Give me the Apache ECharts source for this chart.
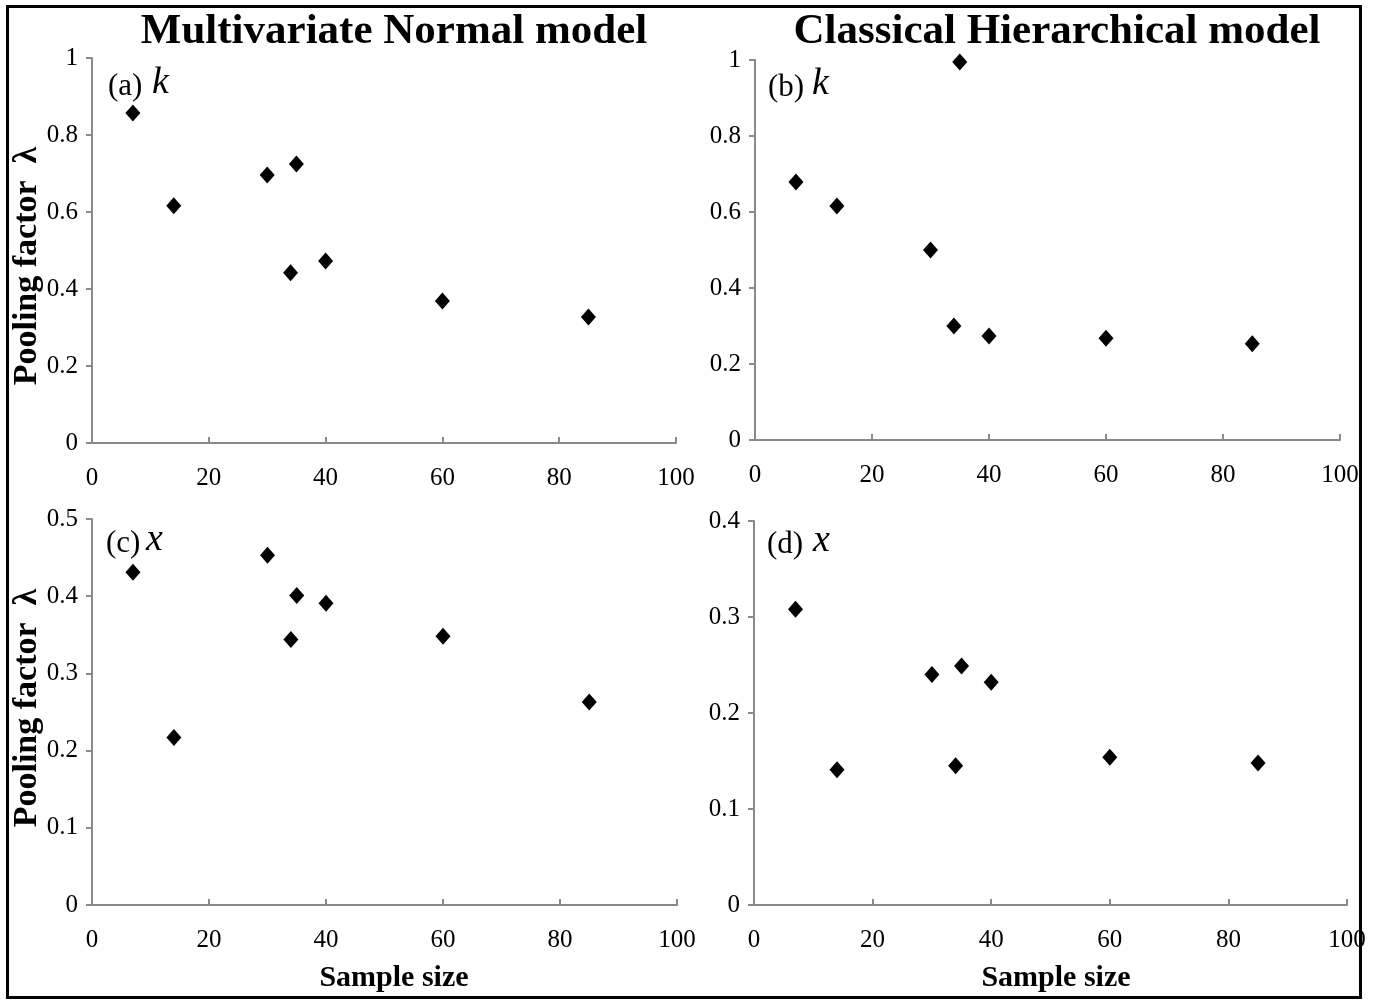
<!DOCTYPE html>
<html>
<head>
<meta charset="utf-8">
<script src="https://cdn.jsdelivr.net/npm/echarts@6/dist/echarts.min.js"></script>
<style>
html,body{margin:0;padding:0;background:#fff;}
#c{width:1376px;height:1001px;}
</style>
</head>
<body>
<div id="c"></div>
<script>
// Data
var sampleSize = [7, 14, 30, 35, 34, 40, 60, 85];
var kMultivariate = [0.857, 0.616, 0.696, 0.725, 0.442, 0.473, 0.369, 0.327];
var kClassical = [0.679, 0.616, 0.500, 0.995, 0.300, 0.274, 0.268, 0.253];
var xMultivariate = [0.431, 0.217, 0.453, 0.401, 0.344, 0.391, 0.348, 0.263];
var xClassical = [0.308, 0.141, 0.240, 0.249, 0.145, 0.232, 0.154, 0.148];

var columnTitles = ['Multivariate Normal model', 'Classical Hierarchical model'];
var panelLetters = ['(a)', '(b)', '(c)', '(d)'];
var panelVars = ['k', 'k', 'x', 'x'];
var yMax = [1, 1, 0.5, 0.4];
var yInterval = [0.2, 0.2, 0.1, 0.1];
var yName = 'Pooling factor  λ';
var xName = 'Sample size';

var panels = [kMultivariate, kClassical, xMultivariate, xClassical];

var grids = [
  {left: 92, top: 58, width: 584, height: 385},
  {left: 755, top: 60, width: 585, height: 380},
  {left: 92, top: 519, width: 585, height: 386},
  {left: 754, top: 521, width: 593, height: 384}
];

var FONT = '"Liberation Serif", "Times New Roman", serif';
var axisGray = '#8a8a8a';

function pairs(xs, ys) {
  return xs.map(function (v, i) { return [v, ys[i]]; });
}

var xAxes = [], yAxes = [], series = [], titles = [], graphics = [];
for (var i = 0; i < 4; i++) {
  xAxes.push({
    type: 'value', gridIndex: i, min: 0, max: 100, interval: 20,
    axisLine: {show: true, lineStyle: {color: axisGray, width: 2}},
    axisTick: {show: true, inside: true, length: 6, lineStyle: {color: axisGray, width: 2}},
    splitLine: {show: false},
    axisLabel: {color: '#000', fontFamily: FONT, fontSize: 25, margin: 23}
  });
  yAxes.push({
    type: 'value', gridIndex: i, min: 0, max: yMax[i], interval: yInterval[i],
    axisLine: {show: true, lineStyle: {color: axisGray, width: 2}},
    axisTick: {show: true, inside: false, length: 6, lineStyle: {color: axisGray, width: 2}},
    splitLine: {show: false},
    axisLabel: {color: '#000', fontFamily: FONT, fontSize: 25, margin: 14}
  });
  series.push({
    type: 'scatter', xAxisIndex: i, yAxisIndex: i,
    symbol: 'diamond', symbolSize: [15, 17],
    itemStyle: {color: '#000', opacity: 1},
    data: pairs(sampleSize, panels[i]),
    silent: true
  });
}

titles.push({
  text: columnTitles[0], left: 389, top: 5, textAlign: 'center',
  textStyle: {fontFamily: FONT, fontSize: 43, fontWeight: 'bold', color: '#000'}
});
titles.push({
  text: columnTitles[1], left: 1052, top: 5, textAlign: 'center',
  textStyle: {fontFamily: FONT, fontSize: 43, fontWeight: 'bold', color: '#000'}
});

// panel labels
var labelPos = [[108, 85, 44], [768, 86, 44], [106, 542, 40], [767, 543, 46]];
for (var j = 0; j < 4; j++) {
  graphics.push({
    type: 'text', left: labelPos[j][0], top: labelPos[j][1] - 21, silent: true,
    style: {
      text: '{n|' + panelLetters[j] + '}{v|' + panelVars[j] + '}',
      rich: {
        n: {fontFamily: FONT, fontSize: 31, fill: '#000', width: labelPos[j][2], lineHeight: 42, verticalAlign: 'bottom'},
        v: {fontFamily: FONT, fontSize: 38, fontStyle: 'italic', fill: '#000', lineHeight: 42, verticalAlign: 'bottom'}
      }
    }
  });
}

// y-axis names
var yNamePos = [[27, 266], [27, 708]];
yNamePos.forEach(function (p) {
  graphics.push({
    type: 'text', x: p[0], y: p[1], rotation: Math.PI / 2, silent: true,
    style: {
      text: yName, fontFamily: FONT, fontSize: 34, fontWeight: 'bold', fill: '#000',
      align: 'center', verticalAlign: 'middle'
    }
  });
});
// x-axis names
var xNamePos = [[394, 978], [1056, 978]];
xNamePos.forEach(function (p) {
  graphics.push({
    type: 'text', x: p[0], y: p[1], silent: true,
    style: {
      text: xName, fontFamily: FONT, fontSize: 30, fontWeight: 'bold', fill: '#000',
      align: 'center', verticalAlign: 'middle'
    }
  });
});

graphics.push({
  type: 'rect', shape: {x: 7.5, y: 6.5, width: 1353, height: 991},
  style: {fill: 'none', stroke: '#000', lineWidth: 3}, silent: true, z: 100
});

var chart = echarts.init(document.getElementById('c'), null, {renderer: 'canvas'});
chart.setOption({
  backgroundColor: '#fff',
  animation: false,
  title: titles,
  grid: grids,
  xAxis: xAxes,
  yAxis: yAxes,
  series: series,
  graphic: graphics
});
</script>
</body>
</html>
